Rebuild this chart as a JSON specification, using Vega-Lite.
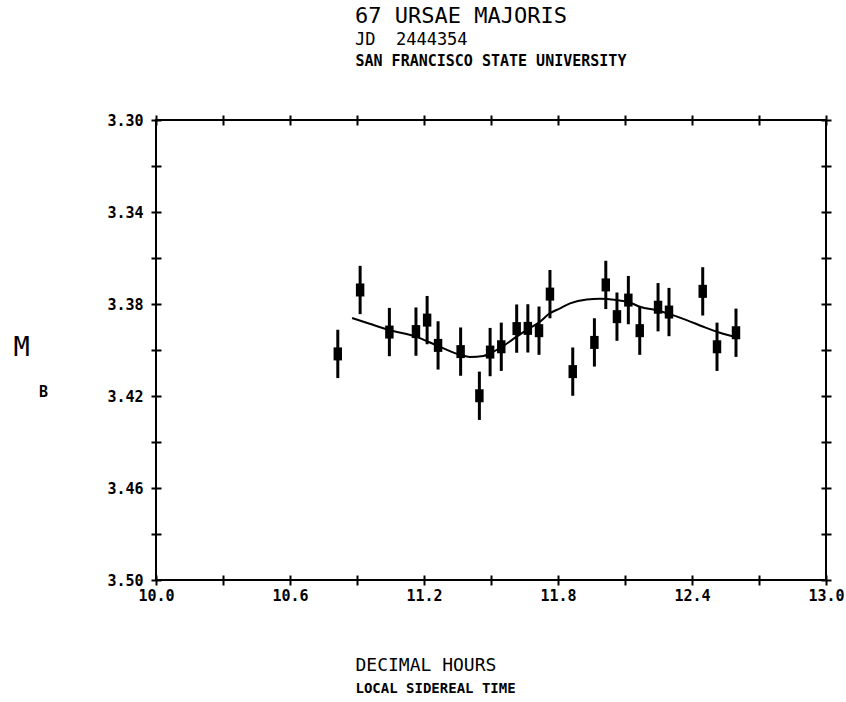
{
  "$schema": "https://vega.github.io/schema/vega-lite/v6.json",
  "width": 670,
  "height": 460,
  "autosize": {"type": "none"},
  "padding": {"left": 156, "top": 120, "right": 20, "bottom": 122},
  "background": "white",
  "config": {
    "view": {"stroke": "black", "strokeWidth": 2},
    "font": "DejaVu Sans Mono",
    "axis": {
      "labelFont": "DejaVu Sans Mono",
      "labelFontWeight": "bold",
      "labelFontSize": 15,
      "labelColor": "black",
      "titleFont": "DejaVu Sans Mono",
      "titleColor": "black",
      "titleFontWeight": "normal",
      "tickColor": "black",
      "tickWidth": 2,
      "grid": false,
      "domain": false,
      "labelOverlap": false,
      "labelFlush": false,
      "labelBound": false
    }
  },
  "title": {
    "text": "67 URSAE MAJORIS",
    "subtitle": "JD\u00a0\u00a02444354",
    "anchor": "start",
    "frame": "group",
    "dx": 199,
    "offset": 4,
    "font": "DejaVu Sans Mono",
    "fontSize": 22,
    "fontWeight": "normal",
    "color": "black",
    "subtitleFont": "DejaVu Sans Mono",
    "subtitleFontSize": 17,
    "subtitleColor": "black",
    "subtitlePadding": 4
  },
  "datasets": {
    "obs": [
      {"hour": 10.814, "mag": 3.4017, "lo": 3.3912, "hi": 3.4122},
      {"hour": 10.914, "mag": 3.3739, "lo": 3.3634, "hi": 3.3844},
      {"hour": 11.045, "mag": 3.3922, "lo": 3.3817, "hi": 3.4027},
      {"hour": 11.164, "mag": 3.3920, "lo": 3.3815, "hi": 3.4025},
      {"hour": 11.214, "mag": 3.3870, "lo": 3.3765, "hi": 3.3975},
      {"hour": 11.263, "mag": 3.3980, "lo": 3.3875, "hi": 3.4085},
      {"hour": 11.364, "mag": 3.4007, "lo": 3.3902, "hi": 3.4112},
      {"hour": 11.448, "mag": 3.4199, "lo": 3.4094, "hi": 3.4304},
      {"hour": 11.496, "mag": 3.4009, "lo": 3.3904, "hi": 3.4114},
      {"hour": 11.546, "mag": 3.3986, "lo": 3.3881, "hi": 3.4091},
      {"hour": 11.615, "mag": 3.3907, "lo": 3.3802, "hi": 3.4012},
      {"hour": 11.665, "mag": 3.3906, "lo": 3.3801, "hi": 3.4011},
      {"hour": 11.715, "mag": 3.3916, "lo": 3.3811, "hi": 3.4021},
      {"hour": 11.764, "mag": 3.3757, "lo": 3.3652, "hi": 3.3862},
      {"hour": 11.866, "mag": 3.4094, "lo": 3.3989, "hi": 3.4199},
      {"hour": 11.963, "mag": 3.3967, "lo": 3.3862, "hi": 3.4072},
      {"hour": 12.014, "mag": 3.3717, "lo": 3.3612, "hi": 3.3822},
      {"hour": 12.064, "mag": 3.3855, "lo": 3.3750, "hi": 3.3960},
      {"hour": 12.115, "mag": 3.3783, "lo": 3.3678, "hi": 3.3888},
      {"hour": 12.166, "mag": 3.3916, "lo": 3.3811, "hi": 3.4021},
      {"hour": 12.248, "mag": 3.3814, "lo": 3.3709, "hi": 3.3919},
      {"hour": 12.297, "mag": 3.3835, "lo": 3.3730, "hi": 3.3940},
      {"hour": 12.448, "mag": 3.3745, "lo": 3.3640, "hi": 3.3850},
      {"hour": 12.512, "mag": 3.3986, "lo": 3.3881, "hi": 3.4091},
      {"hour": 12.597, "mag": 3.3925, "lo": 3.3820, "hi": 3.4030}
    ],
    "fit": [
      {"hour": 10.878, "mag": 3.3861},
      {"hour": 10.960, "mag": 3.3887},
      {"hour": 11.045, "mag": 3.3913},
      {"hour": 11.163, "mag": 3.3942},
      {"hour": 11.264, "mag": 3.3983},
      {"hour": 11.364, "mag": 3.4022},
      {"hour": 11.406, "mag": 3.4030},
      {"hour": 11.466, "mag": 3.4026},
      {"hour": 11.497, "mag": 3.4014},
      {"hour": 11.546, "mag": 3.3988},
      {"hour": 11.615, "mag": 3.3942},
      {"hour": 11.664, "mag": 3.3910},
      {"hour": 11.714, "mag": 3.3881},
      {"hour": 11.764, "mag": 3.3840},
      {"hour": 11.809, "mag": 3.3819},
      {"hour": 11.854, "mag": 3.3797},
      {"hour": 11.929, "mag": 3.3780},
      {"hour": 11.988, "mag": 3.3777},
      {"hour": 12.063, "mag": 3.3783},
      {"hour": 12.115, "mag": 3.3791},
      {"hour": 12.167, "mag": 3.3812},
      {"hour": 12.249, "mag": 3.3829},
      {"hour": 12.297, "mag": 3.3843},
      {"hour": 12.376, "mag": 3.3870},
      {"hour": 12.451, "mag": 3.3899},
      {"hour": 12.525, "mag": 3.3925},
      {"hour": 12.600, "mag": 3.3945}
    ]
  },
  "resolve": {"axis": {"x": "independent", "y": "independent"}},
  "layer": [
    {
      "data": {"name": "obs"},
      "mark": {"type": "rule", "color": "black", "strokeWidth": 3},
      "encoding": {
        "x": {
          "field": "hour", "type": "quantitative",
          "scale": {"domain": [10, 13], "nice": false, "zero": false},
          "axis": {
            "orient": "bottom", "offset": -5, "tickSize": 10, "labelPadding": 3,
            "values": [10, 10.3, 10.6, 10.9, 11.2, 11.5, 11.8, 12.1, 12.4, 12.7, 13],
            "labelExpr": "round(datum.value * 10) % 6 == 4 ? format(datum.value, '.1f') : ''",
            "title": "DECIMAL HOURS", "titleFontSize": 18,
            "titleX": 199, "titleY": 95, "titleAlign": "left", "titleAnchor": null,
            "titleBaseline": "alphabetic"
          }
        },
        "y": {
          "field": "lo", "type": "quantitative",
          "scale": {"domain": [3.3, 3.5], "reverse": true, "nice": false, "zero": false},
          "axis": {
            "orient": "left", "offset": -5, "tickSize": 10, "labelPadding": 8,
            "values": [3.3, 3.32, 3.34, 3.36, 3.38, 3.4, 3.42, 3.44, 3.46, 3.48, 3.5],
            "labelExpr": "round(datum.value * 100) % 4 == 2 ? format(datum.value, '.2f') : ''",
            "title": "M", "titleFontSize": 27, "titleAngle": 0,
            "titleX": -140, "titleY": 235, "titleAlign": "center", "titleAnchor": null,
            "titleBaseline": "alphabetic"
          }
        },
        "y2": {"field": "hi"}
      }
    },
    {
      "data": {"name": "fit"},
      "mark": {"type": "line", "color": "black", "strokeWidth": 2, "interpolate": "monotone"},
      "encoding": {
        "x": {
          "field": "hour", "type": "quantitative",
          "scale": {"domain": [10, 13], "nice": false, "zero": false},
          "axis": {
            "orient": "top", "offset": -5, "tickSize": 10, "labels": false,
            "values": [10, 10.3, 10.6, 10.9, 11.2, 11.5, 11.8, 12.1, 12.4, 12.7, 13],
            "title": "SAN FRANCISCO STATE UNIVERSITY", "titleFontSize": 15,
            "titleFontWeight": "bold",
            "titleX": 199, "titleY": -60, "titleAlign": "left", "titleAnchor": null,
            "titleBaseline": "alphabetic"
          }
        },
        "y": {
          "field": "mag", "type": "quantitative",
          "scale": {"domain": [3.3, 3.5], "reverse": true, "nice": false, "zero": false},
          "axis": {
            "orient": "right", "offset": -5, "tickSize": 10, "labels": false,
            "values": [3.3, 3.32, 3.34, 3.36, 3.38, 3.4, 3.42, 3.44, 3.46, 3.48, 3.5],
            "title": "B", "titleFontSize": 15, "titleFontWeight": "bold", "titleAngle": 0,
            "titleX": -778, "titleY": 276, "titleAlign": "center", "titleAnchor": null,
            "titleBaseline": "alphabetic"
          }
        }
      }
    },
    {
      "data": {"name": "obs"},
      "mark": {
        "type": "point", "filled": true, "color": "black", "opacity": 1,
        "shape": "M-0.65,-1L0.65,-1L0.65,1L-0.65,1Z", "size": 169
      },
      "encoding": {
        "x": {
          "field": "hour", "type": "quantitative",
          "scale": {"domain": [10, 13], "nice": false, "zero": false},
          "axis": {
            "orient": "bottom", "ticks": false, "labels": false,
            "title": "LOCAL SIDEREAL TIME", "titleFontSize": 14, "titleFontWeight": "bold",
            "titleX": 199, "titleY": 112, "titleAlign": "left", "titleAnchor": null,
            "titleBaseline": "alphabetic"
          }
        },
        "y": {
          "field": "mag", "type": "quantitative",
          "scale": {"domain": [3.3, 3.5], "reverse": true, "nice": false, "zero": false},
          "axis": null
        }
      }
    }
  ]
}
